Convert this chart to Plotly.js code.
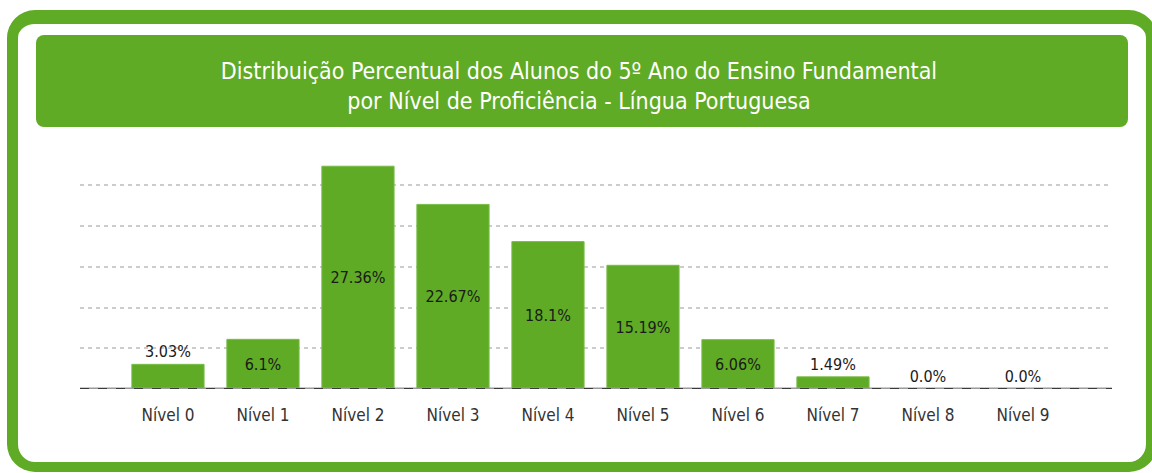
<!DOCTYPE html>
<html>
<head>
<meta charset="utf-8">
<script src="https://cdn.plot.ly/plotly-3.0.1.min.js"></script>
<style>
  html, body { margin: 0; padding: 0; background: #ffffff; overflow: hidden; }
  #wrap { position: relative; width: 1152px; height: 473px; }
  #frame { position: absolute; left: 7px; top: 10px; width: 1150px; height: 462px;
           box-sizing: border-box; border: solid #5fab25; border-width: 14px 11px 10px 11px;
           border-radius: 28px; }
  #titlebox { position: absolute; left: 36px; top: 35px; width: 1092px; height: 92px;
              background: #5fab25; border-radius: 8px; }
  #chart { position: absolute; left: 0; top: 0; width: 1152px; height: 473px; }
</style>
</head>
<body>
<div id="wrap">
  <div id="frame"></div>
  <div id="titlebox"></div>
  <div id="chart"></div>
</div>
<script>
const categories = ['Nível 0', 'Nível 1', 'Nível 2', 'Nível 3', 'Nível 4', 'Nível 5', 'Nível 6', 'Nível 7', 'Nível 8', 'Nível 9'];
const percentValues = [3.03, 6.1, 27.36, 22.67, 18.1, 15.19, 6.06, 1.49, 0.0, 0.0];
const valueLabels = ['3.03%', '6.1%', '27.36%', '22.67%', '18.1%', '15.19%', '6.06%', '1.49%', '0.0%', '0.0%'];
const gridValues = [5, 10, 15, 20, 25];
const titleLines = ['Distribuição Percentual dos Alunos do 5º Ano do Ensino Fundamental', 'por Nível de Proficiência - Língua Portuguesa'];

const FONT = '"Liberation Sans Narrow", "DejaVu Sans Condensed", "Arial Narrow", sans-serif';

const trace = {
  type: 'bar',
  x: categories,
  y: percentValues,
  text: valueLabels,
  textposition: percentValues.map(v => v >= 5 ? 'inside' : 'outside'),
  insidetextanchor: 'middle',
  constraintext: 'none',
  cliponaxis: false,
  textfont: { family: FONT, size: 16, color: '#1a1a1a' },
  marker: { color: '#5fab25', line: { color: '#78bc48', width: 1 } },
  width: 0.76,
  hoverinfo: 'none'
};

const layout = {
  width: 1152,
  height: 473,
  margin: { l: 80, r: 40, t: 161, b: 84 },
  paper_bgcolor: 'rgba(0,0,0,0)',
  plot_bgcolor: 'rgba(0,0,0,0)',
  showlegend: false,
  title: {
    text: titleLines.join('<br>'),
    font: { family: FONT, size: 23, color: '#ffffff' },
    xref: 'container', yref: 'container',
    x: 0.5026, y: 1 - 79 / 473,
    xanchor: 'center', yanchor: 'middle'
  },
  xaxis: {
    type: 'category',
    range: [-0.926, 9.937],
    showgrid: false,
    zeroline: false,
    showline: false,
    ticks: '',
    ticklabelstandoff: 14,
    tickfont: { family: FONT, size: 17, color: '#333333' },
    fixedrange: true
  },
  yaxis: {
    range: [0, 28],
    tickvals: gridValues,
    showticklabels: false,
    showgrid: true,
    gridcolor: '#cccccc',
    gridwidth: 2,
    griddash: '4px,4px',
    zeroline: false,
    showline: false,
    ticks: '',
    fixedrange: true
  },
  shapes: [
    { type: 'line', xref: 'paper', yref: 'y', x0: 0, x1: 1, y0: 0, y1: 0,
      line: { color: '#9a9a9a', width: 3 }, layer: 'above' },
    { type: 'line', xref: 'paper', yref: 'y', x0: 0, x1: 1, y0: 0, y1: 0,
      line: { color: '#3a3a3a', width: 2, dash: 'dash' }, layer: 'above' }
  ]
};

Plotly.newPlot('chart', [trace], layout, { displayModeBar: false, staticPlot: true });
</script>
</body>
</html>
